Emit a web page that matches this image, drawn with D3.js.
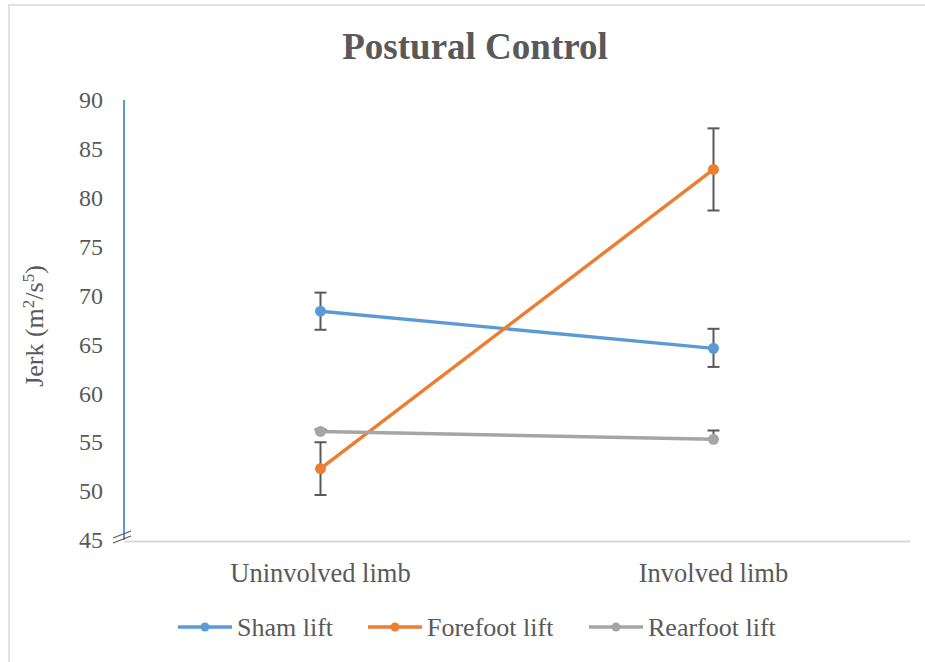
<!DOCTYPE html>
<html>
<head>
<meta charset="utf-8">
<script src="https://cdn.jsdelivr.net/npm/d3@7"></script>
<style>
  html, body { margin: 0; padding: 0; background: #fff; }
  svg { display: block; }
  text { font-family: "Liberation Serif", "Times New Roman", serif; fill: #595959; }
</style>
</head>
<body>
<svg id="chart" width="925" height="662"></svg>
<script>
// Limb conditions on the x axis
const categories = ["Uninvolved limb", "Involved limb"];

// Mean jerk per condition (m^2/s^5)
const shamLift = [68.4, 64.6];
const forefootLift = [52.3, 82.9];
const rearfootLift = [56.1, 55.3];

// Error bar half-widths: [below, above]
const shamErr = [[1.9, 1.9], [1.9, 2.0]];
const forefootErr = [[2.7, 2.7], [4.2, 4.2]];
const rearfootErr = [[0, 0.2], [0, 0.9]];

const seriesNames = ["Sham lift", "Forefoot lift", "Rearfoot lift"];
const seriesColors = ["#5B9BD5", "#ED7D31", "#A5A5A5"];

const yTicks = [45, 50, 55, 60, 65, 70, 75, 80, 85, 90];

const series = [
  { name: seriesNames[0], color: seriesColors[0], values: shamLift, err: shamErr },
  { name: seriesNames[1], color: seriesColors[1], values: forefootLift, err: forefootErr },
  { name: seriesNames[2], color: seriesColors[2], values: rearfootLift, err: rearfootErr }
];

const svg = d3.select("#chart");

// Chart area frame
svg.append("rect")
  .attr("x", 9).attr("y", 5)
  .attr("width", 940).attr("height", 680)
  .attr("fill", "none")
  .attr("stroke", "#d9d9d9")
  .attr("stroke-width", 1.5);

const plot = { left: 124, right: 910, top: 100, bottom: 540 };

const x = d3.scaleBand()
  .domain(categories)
  .range([plot.left, plot.right]);

const y = d3.scaleLinear()
  .domain([45, 90])
  .range([plot.bottom, plot.top]);

// Title
svg.append("text")
  .attr("x", 475).attr("y", 59)
  .attr("text-anchor", "middle")
  .style("font-size", "37px")
  .style("font-weight", "bold")
  .text("Postural Control");

// Y tick labels
const yAxis = d3.axisLeft(y).tickValues(yTicks).tickSize(0).tickPadding(21);
const yG = svg.append("g")
  .attr("transform", `translate(${plot.left},0)`)
  .call(yAxis);
yG.select(".domain").remove();
yG.selectAll("text")
  .style("font-size", "24px")
  .style("font-family", "'Liberation Serif', serif")
  .attr("fill", "#595959");

// X axis line and category labels
const xAxis = d3.axisBottom(x).tickSize(0).tickPadding(22);
const xG = svg.append("g")
  .attr("transform", `translate(0,${plot.bottom + 1})`)
  .call(xAxis);
xG.select(".domain")
  .attr("stroke", "#d9d9d9")
  .attr("stroke-width", 2);
xG.selectAll("text")
  .style("font-size", "26.5px")
  .style("font-family", "'Liberation Serif', serif")
  .attr("fill", "#595959");

// Y axis line (blue)
svg.append("line")
  .attr("x1", plot.left).attr("x2", plot.left)
  .attr("y1", y(90)).attr("y2", y(45))
  .attr("stroke", "#5B9BD5")
  .attr("stroke-width", 2);

// Axis break marks
[0, 5].forEach(dy => {
  svg.append("line")
    .attr("x1", 113).attr("y1", 543 + dy - 5)
    .attr("x2", 131).attr("y2", 536 + dy - 5)
    .attr("stroke", "#595959")
    .attr("stroke-width", 1.2);
});

// Y axis title
const yTitle = svg.append("text")
  .attr("transform", "translate(43,326) rotate(-90)")
  .attr("text-anchor", "middle")
  .style("font-size", "26px");
yTitle.append("tspan").text("Jerk (m");
yTitle.append("tspan").attr("dy", -9).style("font-size", "17px").text("2");
yTitle.append("tspan").attr("dy", 9).text("/s");
yTitle.append("tspan").attr("dy", -9).style("font-size", "17px").text("5");
yTitle.append("tspan").attr("dy", 9).text(")");

const cx = c => x(c) + x.bandwidth() / 2;

const line = d3.line()
  .x((d, i) => cx(categories[i]))
  .y(d => y(d));

// Series lines
series.forEach(s => {
  svg.append("path")
    .datum(s.values)
    .attr("d", line)
    .attr("fill", "none")
    .attr("stroke", s.color)
    .attr("stroke-width", 3.4)
    .attr("stroke-linecap", "round");
});

// Error bars
const cap = 6;
series.forEach(s => {
  s.values.forEach((v, i) => {
    const px = cx(categories[i]);
    const lo = v - s.err[i][0], hi = v + s.err[i][1];
    const g = svg.append("g").attr("stroke", "#595959").attr("stroke-width", 2);
    g.append("line").attr("x1", px).attr("x2", px).attr("y1", y(lo)).attr("y2", y(hi));
    g.append("line").attr("x1", px - cap).attr("x2", px + cap).attr("y1", y(hi)).attr("y2", y(hi));
    if (s.err[i][0] > 0) {
      g.append("line").attr("x1", px - cap).attr("x2", px + cap).attr("y1", y(lo)).attr("y2", y(lo));
    }
  });
});

// Markers
series.forEach(s => {
  svg.selectAll(null)
    .data(s.values)
    .enter().append("circle")
    .attr("cx", (d, i) => cx(categories[i]))
    .attr("cy", d => y(d))
    .attr("r", 5.5)
    .attr("fill", s.color);
});

// Legend
const legendItems = [
  { x: 178, textX: 237 },
  { x: 368, textX: 427 },
  { x: 589, textX: 648 }
];
const legendY = 627;
series.forEach((s, i) => {
  const L = legendItems[i];
  svg.append("line")
    .attr("x1", L.x).attr("x2", L.x + 54)
    .attr("y1", legendY).attr("y2", legendY)
    .attr("stroke", s.color).attr("stroke-width", 3.4);
  svg.append("circle")
    .attr("cx", L.x + 27).attr("cy", legendY).attr("r", 4.5)
    .attr("fill", s.color);
  svg.append("text")
    .attr("x", L.textX).attr("y", legendY + 9)
    .style("font-size", "26px")
    .text(s.name);
});
</script>
</body>
</html>
